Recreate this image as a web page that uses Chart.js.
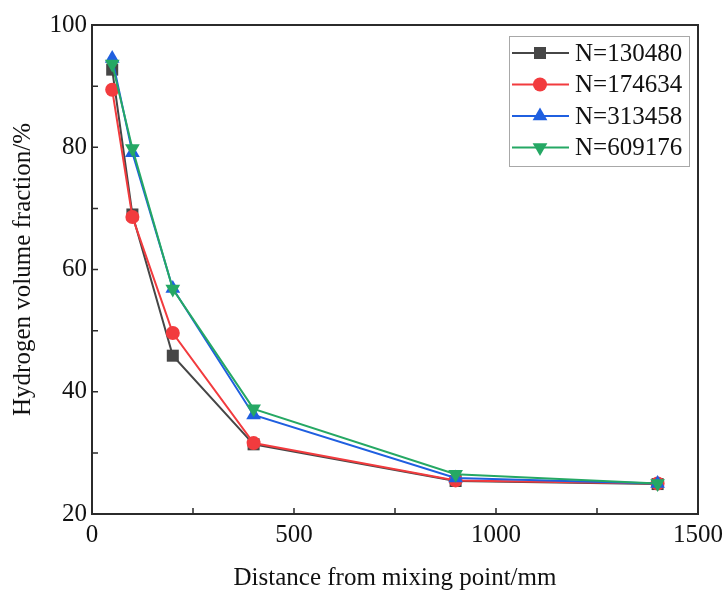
<!DOCTYPE html>
<html>
<head>
<meta charset="utf-8">
<script src="https://cdn.jsdelivr.net/npm/chart.js@4"></script>
<style>
  html, body { margin: 0; padding: 0; background: #fff; }
  #wrap { width: 724px; height: 596px; }
</style>
</head>
<body>
<div id="wrap"><canvas id="h2Chart" width="724" height="596"></canvas></div>
<script>
// distance from mixing point (mm)
const distances = [50, 100, 200, 400, 900, 1400];
const seriesNames = ['N=130480', 'N=174634', 'N=313458', 'N=609176'];
const n130480 = [92.7, 69.0, 45.9, 31.4, 25.4, 24.9];
const n174634 = [89.4, 68.6, 49.6, 31.6, 25.5, 25.0];
const n313458 = [94.5, 79.1, 56.9, 36.2, 25.9, 25.0];
const n609176 = [93.6, 79.8, 56.8, 37.2, 26.5, 25.0];
const yTicks = [20, 40, 60, 80, 100];
const xTicks = [0, 500, 1000, 1500];
const yMinor = [30, 50, 70, 90];
const xMinor = [250, 750, 1250];

const serif = "'Liberation Serif', 'Times New Roman', serif";
const colors = ['#464646', '#f23b3e', '#1f5fe0', '#25a864'];
const markers = ['rect', 'circle', 'triangle', 'triangle'];
const rotations = [0, 0, 0, 180];
const radii = [8.5, 7, 8.5, 8.5];
const allValues = [n130480, n174634, n313458, n609176];

const toPts = vals => vals.map((v, i) => ({ x: distances[i], y: v }));

// frame, inward ticks and the boxed legend
const framePlugin = {
    id: 'frame',
    afterDraw(chart) {
        const { ctx, chartArea: a, scales } = chart;
        const xs = scales.x, ys = scales.y;
        ctx.save();
        ctx.strokeStyle = '#2b2b2b';
        ctx.lineWidth = 2;
        ctx.strokeRect(a.left, a.top, a.right - a.left, a.bottom - a.top);
        ctx.lineWidth = 1.5;
        ctx.beginPath();
        yTicks.concat(yMinor).forEach(v => {
            const y = ys.getPixelForValue(v);
            ctx.moveTo(a.left, y); ctx.lineTo(a.left + 6, y);
        });
        xTicks.concat(xMinor).forEach(v => {
            const x = xs.getPixelForValue(v);
            ctx.moveTo(x, a.bottom); ctx.lineTo(x, a.bottom - 6);
        });
        ctx.stroke();

        // legend
        const bx = 509, by = 36, bw = 180, bh = 130;
        ctx.strokeStyle = '#a8a8a8';
        ctx.lineWidth = 1;
        ctx.strokeRect(bx + 0.5, by + 0.5, bw, bh);
        ctx.font = '25px ' + serif;
        ctx.textBaseline = 'middle';
        chart.data.datasets.forEach((ds, i) => {
            const y = by + 17 + i * 31.5;
            ctx.strokeStyle = ds.borderColor;
            ctx.lineWidth = 2;
            ctx.beginPath();
            ctx.moveTo(bx + 3, y); ctx.lineTo(bx + 60, y);
            ctx.stroke();
            ctx.fillStyle = ds.borderColor;
            Chart.helpers.drawPoint(ctx, {
                pointStyle: ds.pointStyle, rotation: ds.rotation, radius: ds.pointRadius, borderWidth: 0
            }, bx + 31, y);
            ctx.fillStyle = '#111';
            ctx.fillText(ds.label, bx + 66, y + 1);
        });
        ctx.restore();
    }
};

new Chart(document.getElementById('h2Chart'), {
    type: 'line',
    data: {
        datasets: seriesNames.map((name, i) => ({
            label: name,
            data: toPts(allValues[i]),
            order: seriesNames.length - i, // later series on top
            borderColor: colors[i],
            backgroundColor: colors[i],
            borderWidth: 2,
            pointStyle: markers[i],
            rotation: rotations[i],
            pointRadius: radii[i],
            pointBorderWidth: 0,
            fill: false,
            tension: 0
        }))
    },
    options: {
        responsive: false,
        animation: false,
        layout: { padding: { top: 25, right: 26, left: 0, bottom: 0 } },
        plugins: { legend: { display: false }, tooltip: { enabled: false } },
        scales: {
            x: {
                type: 'linear', min: 0, max: 1500,
                afterFit: s => { s.height = 82; s.paddingRight = 0; s.paddingLeft = 0; },
                grid: { display: false, drawTicks: false },
                border: { display: false },
                ticks: { stepSize: 500, padding: 6, color: '#111', font: { family: serif, size: 25 },
                    callback: v => String(v) },
                title: { display: true, text: 'Distance from mixing point/mm', color: '#111',
                    font: { family: serif, size: 25 }, padding: { top: 0, bottom: 3 } }
            },
            y: {
                type: 'linear', min: 20, max: 100,
                afterFit: s => { s.width = 92; s.paddingTop = 0; s.paddingBottom = 0; },
                grid: { display: false, drawTicks: false },
                border: { display: false },
                ticks: { stepSize: 20, padding: 5, color: '#111', font: { family: serif, size: 25 },
                    callback: v => String(v) },
                title: { display: true, text: 'Hydrogen volume fraction/%', color: '#111',
                    font: { family: serif, size: 25 }, padding: { top: 8, bottom: 8 } }
            }
        }
    },
    plugins: [framePlugin]
});
</script>
</body>
</html>
